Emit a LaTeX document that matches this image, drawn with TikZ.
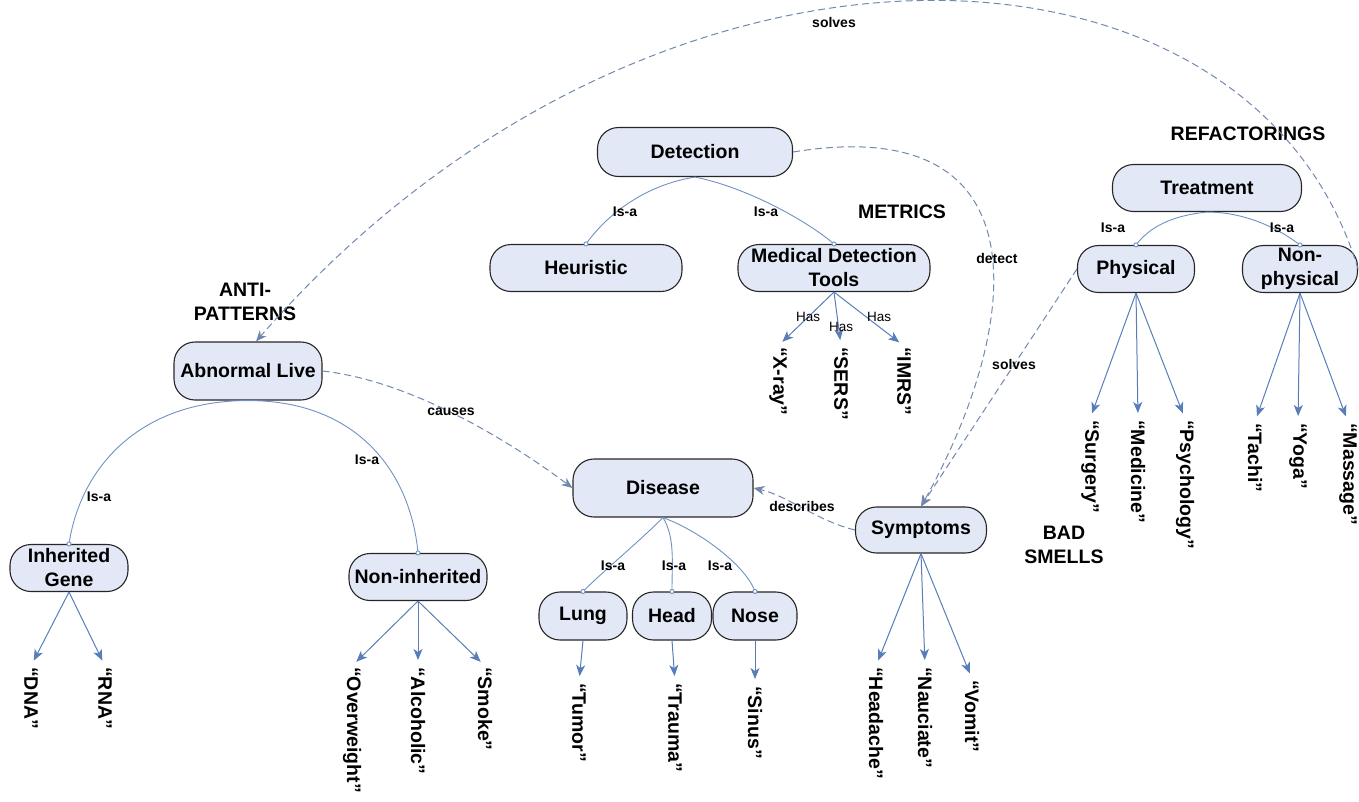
\documentclass[tikz,border=0pt]{standalone}
\usepackage{fontspec}
\setmainfont{Liberation Sans}
\usetikzlibrary{arrows.meta}
\definecolor{nodefill}{RGB}{226,232,245}
\definecolor{linkblue}{RGB}{88,125,185}
\definecolor{dashblue}{RGB}{112,136,176}

\begin{document}
\begin{tikzpicture}[x=1pt,y=-1pt,
  concept/.style={draw=black!85, fill=nodefill, line width=1.1pt, rounded corners=21pt,
    align=center, inner sep=0pt, font=\fontsize{19.5}{24}\selectfont\bfseries},
  leaf/.style={rotate=-90, anchor=west, inner sep=1pt, font=\fontsize{19.5}{24}\selectfont\bfseries},
  tag/.style={font=\fontsize{19.5}{24}\selectfont\bfseries, align=center},
  lbl/.style={font=\fontsize{14}{16}\selectfont\bfseries, inner sep=1pt},
  haslbl/.style={font=\fontsize{13.5}{16}\selectfont, inner sep=1pt},
  isa/.style={draw=linkblue!85, line width=0.9pt, shorten >=-2.5pt,
    -{Circle[length=5pt, fill=white]}},
  has/.style={draw=linkblue, line width=1pt, shorten >=6pt,
    -{Stealth[length=11pt, width=9pt, inset=3pt]}},
  rel/.style={draw=dashblue, line width=1pt, dash pattern=on 7pt off 4pt,
    -{Stealth[length=11pt, width=9pt]}},
]
\useasboundingbox (0,0) rectangle (1359,801);

% ---- concepts ----
\node[concept, minimum width=195pt, minimum height=49pt] (det) at (695,152) {Detection};
\node[concept, minimum width=192pt, minimum height=47pt] (heu) at (586,268) {Heuristic};
\node[concept, minimum width=192pt, minimum height=47pt] (mdt) at (834,268) {Medical Detection\\Tools};
\node[concept, minimum width=189pt, minimum height=47pt] (trt) at (1207,188) {Treatment};
\node[concept, minimum width=117pt, minimum height=47pt] (phy) at (1136,269) {Physical};
\node[concept, minimum width=115pt, minimum height=47pt] (nph) at (1300,269) {Non-\\physical};
\node[concept, minimum width=148pt, minimum height=58pt] (abn) at (248,371) {Abnormal Live};
\node[concept, minimum width=118pt, minimum height=47pt] (inh) at (69,568) {Inherited\\Gene};
\node[concept, minimum width=138pt, minimum height=47pt] (noi) at (418,577) {Non-inherited};
\node[concept, minimum width=180pt, minimum height=58pt] (dis) at (663,488) {Disease};
\node[concept, minimum width=88pt, minimum height=48pt] (lung) at (583,616) {Lung};
\node[concept, minimum width=79pt, minimum height=48pt] (head) at (672,616) {Head};
\node[concept, minimum width=84pt, minimum height=48pt] (nose) at (755,616) {Nose};
\node[concept, minimum width=131pt, minimum height=46pt] (sym) at (921,530) {Symptoms};

% ---- leaves ----
\node[leaf] (dna) at (31,666) {“DNA”};
\node[leaf] (rna) at (105,666) {“RNA”};
\node[leaf] (ovw) at (352,666) {“Overweight”};
\node[leaf] (alc) at (418,666) {“Alcoholic”};
\node[leaf] (smk) at (485,666) {“Smoke”};
\node[leaf] (xray) at (778,346) {“X-ray”};
\node[leaf] (sers) at (841,346) {“SERS”};
\node[leaf] (imrs) at (904,346) {“IMRS”};
\node[leaf] (tum) at (579,682) {“Tumor”};
\node[leaf] (trm) at (675,682) {“Trauma”};
\node[leaf] (sin) at (755,685) {“Sinus”};
\node[leaf] (hdc) at (876,666) {“Headache”};
\node[leaf] (nau) at (925,666) {“Nauciate”};
\node[leaf] (vom) at (972,679) {“Vomit”};
\node[leaf] (sur) at (1090,419) {“Surgery”};
\node[leaf] (med) at (1138,419) {“Medicine”};
\node[leaf] (psy) at (1185,419) {“Psychology”};
\node[leaf] (tac) at (1255,422) {“Tachi”};
\node[leaf] (yog) at (1298,422) {“Yoga”};
\node[leaf] (mas) at (1348,422) {“Massage”};

% ---- group titles ----
\node[tag] (tmet) at (902,212) {METRICS};
\node[tag] (tref) at (1248,134) {REFACTORINGS};
\node[tag] (tanti) at (245,302) {ANTI-\\PATTERNS};
\node[tag] (tbad) at (1064,545) {BAD\\SMELLS};

% ---- is-a links ----
\draw[isa] (det.south) .. controls +(-50,8) and +(22,-30) .. (heu.north);
\draw[isa] (det.south) .. controls +(50,10) and +(-30,-25) .. (mdt.north);
\draw[isa] (abn.south) .. controls +(-110,0) and +(12,-75) .. (inh.north);
\draw[isa] (abn.south) .. controls +(110,0) and +(-8,-80) .. (noi.north);
\draw[isa] (dis.south) .. controls +(-25,25) and +(20,-20) .. (lung.north);
\draw[isa] (dis.south) .. controls +(12,20) and +(0,-30) .. (head.north);
\draw[isa] (dis.south) .. controls +(40,15) and +(-10,-25) .. (nose.north);
\draw[isa] (trt.south) .. controls +(-40,4) and +(12,-15) .. (phy.north);
\draw[isa] (trt.south) .. controls +(40,0) and +(-20,-15) .. (nph.north);

\node[lbl] (l1) at (625,212) {Is-a};
\node[lbl] (l2) at (766,212) {Is-a};
\node[lbl] (l3) at (99,497) {Is-a};
\node[lbl] (l4) at (367,460) {Is-a};
\node[lbl] (l5) at (613,566) {Is-a};
\node[lbl] (l6) at (674,566) {Is-a};
\node[lbl] (l7) at (720,566) {Is-a};
\node[lbl] (l8) at (1113,228) {Is-a};
\node[lbl] (l9) at (1282,228) {Is-a};

% ---- has / member links ----
\draw[has] (mdt.south) -- (xray.west);
\draw[has] (mdt.south) -- (sers.west);
\draw[has] (mdt.south) -- (imrs.west);
\node[haslbl] (h1) at (808,317) {Has};
\node[haslbl] (h2) at (841,327) {Has};
\node[haslbl] (h3) at (879,317) {Has};

\draw[has] (inh.south) -- (dna.west);
\draw[has] (inh.south) -- (rna.west);
\draw[has] (noi.south) -- (ovw.west);
\draw[has] (noi.south) -- (alc.west);
\draw[has] (noi.south) -- (smk.west);
\draw[has] (lung.south) -- (tum.west);
\draw[has] (head.south) -- (trm.west);
\draw[has] (nose.south) -- (sin.west);
\draw[has] (sym.south) -- (hdc.west);
\draw[has] (sym.south) -- (nau.west);
\draw[has] (sym.south) -- (vom.west);
\draw[has] (phy.south) -- (sur.west);
\draw[has] (phy.south) -- (med.west);
\draw[has] (phy.south) -- (psy.west);
\draw[has] (nph.south) -- (tac.west);
\draw[has] (nph.south) -- (yog.west);
\draw[has] (nph.south) -- (mas.west);

% ---- cross relations ----
\draw[rel] (abn.east) .. controls +(90,10) and +(-60,-45) .. (dis.west);
\node[lbl] (lc) at (451,412) {causes};
\draw[rel] (sym.west) .. controls +(-40,-10) and +(35,8) .. (dis.east);
\node[lbl] (ld) at (802,506) {describes};
\draw[rel] (det.east) .. controls (1050,110) and (1020,330) .. (sym.north);
\node[lbl] (le) at (997,258) {detect};
\draw[rel] (phy.west) -- (sym.north);
\node[lbl] (ls) at (1014,364) {solves};
\draw[rel] (nph.east) .. controls (1250,-90) and (650,-110) .. ([xshift=8pt]abn.north);
\node[lbl] (lt) at (834,22) {solves};

\end{tikzpicture}
\end{document}
